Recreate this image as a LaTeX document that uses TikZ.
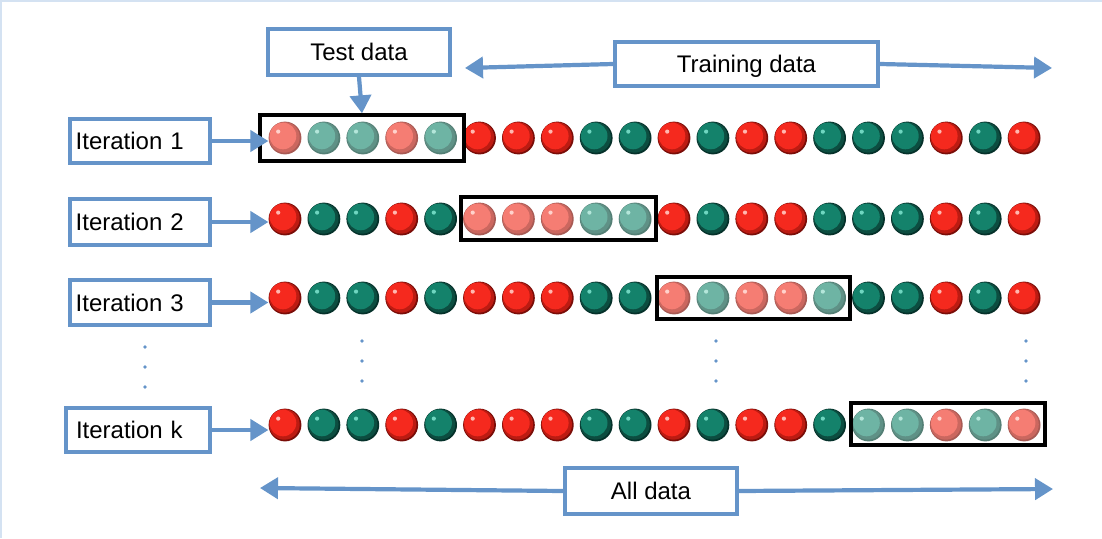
\documentclass[tikz,border=0pt]{standalone}
\usepackage{fontspec}
\setmainfont{Liberation Sans}
\usetikzlibrary{arrows.meta}
\definecolor{frameblue}{HTML}{6594C9}
\definecolor{pageline}{HTML}{D4E2F2}
% ball colours: edge, rim, main, highlight
\definecolor{edgeR}{HTML}{7A0D08}\definecolor{rimR}{HTML}{BC1B12}\definecolor{mainR}{HTML}{F5291E}\definecolor{hlR}{HTML}{FFB8B0}
\definecolor{edgeG}{HTML}{05312A}\definecolor{rimG}{HTML}{0C4D40}\definecolor{mainG}{HTML}{14826B}\definecolor{hlG}{HTML}{6FD6C0}
\definecolor{edgeRf}{HTML}{A85A54}\definecolor{rimRf}{HTML}{CB675F}\definecolor{mainRf}{HTML}{F57D73}\definecolor{hlRf}{HTML}{FFD2CC}
\definecolor{edgeGf}{HTML}{547F75}\definecolor{rimGf}{HTML}{5F9186}\definecolor{mainGf}{HTML}{6EB4A4}\definecolor{hlGf}{HTML}{B4E6DA}
\begin{document}
\begin{tikzpicture}[x=1pt,y=-1pt,
  ball/.style={circle, inner sep=0pt, minimum size=32.8pt, fill=bE, path picture={
      \fill[bR] ([shift={(-0.6pt,0.6pt)}]path picture bounding box.center) circle (15.3pt);
      \fill[bM] ([shift={(-2pt,2pt)}]path picture bounding box.center) circle (13.3pt);
      \fill[bH] ([shift={(-6.8pt,6.4pt)}]path picture bounding box.center) circle (2.1pt);}},
  testbox/.style={draw=black, line width=3.8pt, inner sep=0pt},
  lbl/.style={draw=frameblue, line width=3.8pt, fill=white, inner sep=0pt,
      font=\fontsize{24}{28}\selectfont, text height=17.5pt, text depth=0pt},
  itlbl/.style={lbl, align=left},
  arr/.style={draw=frameblue, line width=4.2pt, -{Triangle[length=18pt,width=21pt]}},
  vdot/.style={fill=frameblue}
]
\useasboundingbox (0,0) rectangle (1102,538);
\fill[white] (0,0) rectangle (1102,538);
\draw[pageline, line width=2pt] (1,538) -- (1,1) -- (1102,1);

% balls
\foreach \r/\yy/\st in {1/138/0,2/219/5,3/298/10,k/425/15}{
  \foreach \col [count=\idx from 0] in {R,G,G,R,G,R,R,R,G,G,R,G,R,R,G,G,G,R,G,R}{
    \ifnum\idx<\st \def\kind{\col}\else
      \ifnum\idx>\numexpr\st+4\relax \def\kind{\col}\else\def\kind{\col f}\fi\fi
    \colorlet{bE}{edge\kind}\colorlet{bR}{rim\kind}\colorlet{bM}{main\kind}\colorlet{bH}{hl\kind}
    \node[ball] (b\r-\idx) at ({285+38.9*\idx},\yy) {};
  }
}

% test-fold boxes
\node[testbox, minimum width=204pt, minimum height=45.5pt] (t1) at (362,138) {};
\node[testbox, minimum width=195pt, minimum height=43pt] (t2) at (558.5,218.5) {};
\node[testbox, minimum width=193pt, minimum height=42pt] (t3) at (753.5,298) {};
\node[testbox, minimum width=194pt, minimum height=42pt] (tk) at (948,424) {};

% iteration labels
\node[itlbl, minimum height=44.2pt, text width=128.6pt, inner xsep=6pt] (it1) at (140,141) {Iteration 1};
\node[itlbl, minimum height=46.2pt, text width=128.6pt, inner xsep=6pt] (it2) at (140,222) {Iteration 2};
\node[itlbl, minimum height=45.2pt, text width=128.6pt, inner xsep=6pt] (it3) at (140,302.5) {Iteration 3};
\node[itlbl, minimum height=44pt, text width=124pt, inner xsep=10.2pt] (itk) at (138,430) {Iteration k};

\foreach \r in {1,2,3,k}{
  \draw[arr] (it\r.east) -- (it\r.east -| b\r-0.west);
}

% top labels
\node[lbl, minimum width=182.2pt, minimum height=46.2pt] (test) at (359,52) {Test data};
\node[lbl, minimum width=263.2pt, minimum height=44.2pt] (train) at (746.5,64) {Training data};
\node[lbl, minimum width=172.2pt, minimum height=46.2pt] (all) at (651,491) {All data};

\coordinate (trl) at (465,68);
\coordinate (trr) at (1052,68);
\coordinate (all-l) at (260,488);
\coordinate (all-r) at (1053,489);

\draw[arr] (test.south) -- (t1.north);
\draw[arr] (train.west) -- (trl);
\draw[arr] (train.east) -- (trr);
\draw[arr] (all.west) -- (all-l);
\draw[arr] (all.east) -- (all-r);

% vertical ellipsis dots
\foreach \yy in {347,367,387}{\fill[vdot] (145,\yy) circle (1.8);}
\foreach \xx in {362,716,1026}{
  \foreach \yy in {341,361,381}{\fill[vdot] (\xx,\yy) circle (1.8);}
}
\end{tikzpicture}
\end{document}
